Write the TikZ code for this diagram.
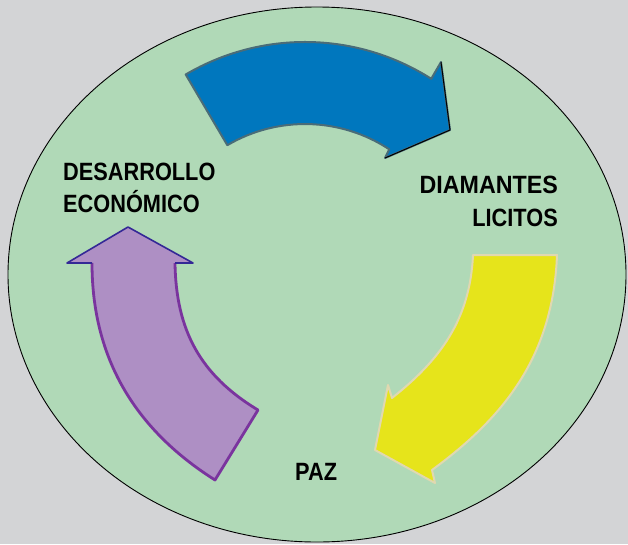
\documentclass[tikz,border=0pt]{standalone}
\usepackage{fontspec}
\setmainfont{Liberation Sans}
\definecolor{bggray}{RGB}{211,212,214}
\definecolor{disc}{RGB}{176,217,183}
\definecolor{bluef}{RGB}{0,119,190}
\definecolor{bluel}{RGB}{74,108,120}
\definecolor{yelf}{RGB}{230,228,27}
\definecolor{yell}{RGB}{224,216,176}
\definecolor{purf}{RGB}{174,143,196}
\definecolor{purl}{RGB}{122,52,158}
\definecolor{purh}{RGB}{52,40,150}
\newcommand\narrowtxt[2][0.87]{\scalebox{#1}[1]{#2}}
\tikzset{
  lbl/.style={font=\bfseries\fontsize{25}{30}\selectfont, inner sep=0pt, text=black},
}
\begin{document}
\begin{tikzpicture}[x=1pt,y=-1pt]
\useasboundingbox (0,0) rectangle (628,544);
\fill[bggray] (0,0) rectangle (628,544);
\draw[fill=disc, line width=0.9pt] (317,274.5) ellipse [x radius=309, y radius=267.5];
% blue arrow
\coordinate (C) at (305,277);
\draw[fill=bluef, draw=bluel, line width=2pt, line join=round]
  (185.7,74.5) arc[start angle=-120.5, end angle=-57.5, radius=235]
  -- (441,62) -- (450,130) -- (385,158) -- (389.2,149.3)
  arc[start angle=-56.6, end angle=-120.5, radius=153] -- cycle;
\draw[black, line width=1pt, line join=round] (441,62) -- (450,130) -- (385,158);
% yellow arrow
\draw[fill=yelf, draw=yell, line width=2pt, line join=round]
  (473,255) -- (557,255) .. controls (553,360) and (500,420) .. (432,470)
  -- (435,483) -- (375,450) -- (388,385) -- (392,398)
  .. controls (440,360) and (470,320) .. (473,255) -- cycle;
% purple arrow
\fill[purf] (128,227) -- (193,263) -- (175,263) .. controls (176,330) and (200,375) .. (258,410)
  -- (215,480) .. controls (120,420) and (92,340) .. (92,263) -- (67,263) -- cycle;
\draw[purl, line width=2.8pt, line join=round] (175,263) .. controls (176,330) and (200,375) .. (258,410)
  -- (215,480) .. controls (120,420) and (92,340) .. (92,263);
\draw[purh, line width=1.6pt, line join=round] (92,263) -- (67,263) -- (128,227) -- (193,263) -- (175,263);
% labels
\node[lbl, anchor=base west] (des1) at (63,180) {\narrowtxt{DESARROLLO}};
\node[lbl, anchor=base west] (des2) at (63,212) {\narrowtxt{ECONÓMICO}};
\node[lbl, anchor=base east] (dia1) at (558,193) {\narrowtxt[0.93]{DIAMANTES}};
\node[lbl, anchor=base east] (dia2) at (558,226) {\narrowtxt{LICITOS}};
\node[lbl, anchor=base west] (paz) at (295,480) {\narrowtxt{PAZ}};
\end{tikzpicture}
\end{document}
